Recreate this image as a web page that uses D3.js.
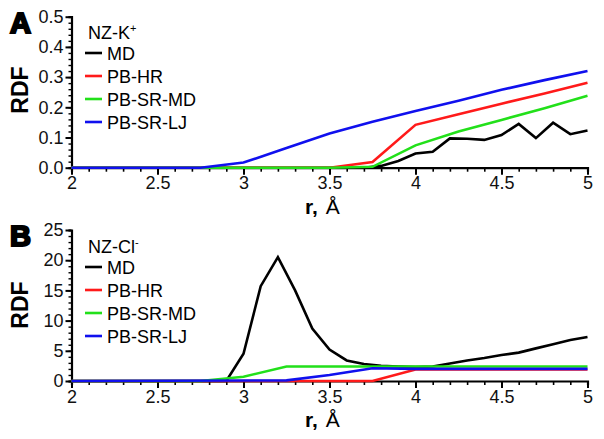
<!DOCTYPE html>
<html><head><meta charset="utf-8">
<script src="https://cdn.jsdelivr.net/npm/d3@7"></script>
<style>body{margin:0;background:#fff;} svg{display:block;font-family:"Liberation Sans",Arial,sans-serif;}</style>
</head><body>
<svg id="c" width="604" height="439"></svg>
<script>
// ---- data ----
const seriesNames = ["MD", "PB-HR", "PB-SR-MD", "PB-SR-LJ"];
const seriesColors = ["#000000", "#ff1a1a", "#22e01a", "#1010ee"];
const xTicks = [2, 2.5, 3, 3.5, 4, 4.5, 5];

// Panel A: NZ-K+
const kMD_r = [2.0, 3.7, 3.8, 3.9, 4.0, 4.1, 4.2, 4.3, 4.4, 4.5, 4.6, 4.7, 4.8, 4.9, 5.0];
const kMD_g = [0, 0, 0.006, 0.022, 0.047, 0.053, 0.097, 0.096, 0.092, 0.108, 0.145, 0.098, 0.149, 0.111, 0.123];
const kHR_r = [2.0, 3.5, 3.75, 4.0, 4.25, 4.5, 4.75, 5.0];
const kHR_g = [0, 0, 0.019, 0.142, 0.177, 0.212, 0.246, 0.281];
const kSRMD_r = [2.0, 3.5, 3.75, 4.0, 4.25, 4.5, 4.75, 5.0];
const kSRMD_g = [0, 0, 0.003, 0.074, 0.12, 0.158, 0.197, 0.238];
const kSRLJ_r = [2.0, 2.75, 3.0, 3.25, 3.5, 3.75, 4.0, 4.25, 4.5, 4.75, 5.0];
const kSRLJ_g = [0, 0, 0.017, 0.065, 0.113, 0.152, 0.188, 0.222, 0.258, 0.29, 0.32];
const kYTicks = [0, 0.1, 0.2, 0.3, 0.4, 0.5];

// Panel B: NZ-Cl-
const cMD_r = [2.0, 2.9, 3.0, 3.1, 3.2, 3.3, 3.4, 3.5, 3.6, 3.7, 3.8, 3.9, 4.0, 4.1, 4.2, 4.3, 4.4, 4.5, 4.6, 4.7, 4.8, 4.9, 5.0];
const cMD_g = [0, 0, 4.5, 15.7, 20.5, 15.0, 8.7, 5.2, 3.4, 2.8, 2.5, 2.4, 2.3, 2.4, 2.9, 3.4, 3.8, 4.3, 4.7, 5.4, 6.1, 6.8, 7.3];
const cHR_r = [2.0, 3.75, 4.0, 4.25, 4.5, 4.75, 5.0];
const cHR_g = [0, 0, 1.9, 1.9, 1.9, 1.9, 1.9];
const cSRMD_r = [2.0, 2.75, 3.0, 3.25, 3.5, 3.75, 4.0, 4.25, 4.5, 4.75, 5.0];
const cSRMD_g = [0, 0, 0.7, 2.4, 2.4, 2.4, 2.4, 2.4, 2.4, 2.4, 2.4];
const cSRLJ_r = [2.0, 3.25, 3.5, 3.75, 4.0, 4.25, 4.5, 4.75, 5.0];
const cSRLJ_g = [0, 0.1, 1.0, 2.1, 2.0, 2.0, 2.0, 2.0, 2.0];
const cYTicks = [0, 5, 10, 15, 20, 25];

const svg = d3.select("#c");
const x = d3.scaleLinear().domain([2, 5]).range([71.5, 587.5]);

function panel(opts) {
  const y = d3.scaleLinear().domain([0, opts.ymax]).range([opts.y0, opts.y1]);
  const g = svg.append("g");
  // x axis
  const xa = g.append("g").attr("transform", `translate(0,${opts.y0})`);
  xa.call(d3.axisBottom(x).tickValues(d3.range(20, 51).map(v => v / 10)).tickSize(4).tickFormat(""));
  xa.call(a => a.selectAll(".tick line").attr("stroke-width", 1.6));
  xa.append("g").call(d3.axisBottom(x).tickValues(xTicks).tickSize(7).tickPadding(2).tickFormat(d3.format("")))
    .call(a => { a.select(".domain").remove(); a.selectAll(".tick line").attr("stroke-width", 2);
      a.selectAll("text").attr("font-size", 18).attr("fill", "#111").attr("font-family", "Liberation Sans, Arial"); });
  xa.select(".domain").attr("stroke-width", 2.2);
  // y axis
  const ya = g.append("g").attr("transform", `translate(${x(2)},0)`);
  const step = opts.yTicks[1] - opts.yTicks[0];
  ya.call(d3.axisLeft(y).tickValues(d3.range(0, 26).map(i => i * step / 5)).tickSize(3).tickFormat(""));
  ya.call(a => a.selectAll(".tick line").attr("stroke-width", 1.4));
  ya.append("g").call(d3.axisLeft(y).tickValues(opts.yTicks).tickSize(6).tickPadding(2).tickFormat(opts.fmt))
    .call(a => { a.select(".domain").remove(); a.selectAll(".tick line").attr("stroke-width", 2);
      a.selectAll("text").attr("font-size", 18).attr("fill", "#111").attr("font-family", "Liberation Sans, Arial"); });
  ya.select(".domain").attr("stroke-width", 2.2);
  // lines
  const line = d3.line().x(d => x(d[0])).y(d => y(d[1]));
  opts.series.forEach((s, i) => {
    g.append("path").datum(d3.zip(s[0], s[1])).attr("d", line)
      .attr("fill", "none").attr("stroke", seriesColors[i]).attr("stroke-width", 2.6)
      .attr("stroke-linejoin", "miter");
  });
  // panel letter
  g.append("text").attr("x", 10).attr("y", opts.y1 + 16).text(opts.letter)
    .attr("font-size", 29).attr("font-weight", 900).attr("stroke", "#000").attr("stroke-width", 2.2)
    .attr("font-family", "Liberation Sans, Arial");
  // y label
  g.append("text").attr("transform", `translate(28,${opts.labelY}) rotate(-90)`).attr("text-anchor", "middle")
    .text("RDF").attr("font-size", 23).attr("font-weight", "bold");
  // x label
  const xl = g.append("text").attr("x", 305).attr("y", opts.y0 + 46).attr("font-size", 21);
  xl.append("tspan").attr("font-weight", "bold").text("r,");
  xl.append("tspan").attr("dx", 8).text("Å");
  // legend
  const lg = g.append("g").attr("transform", `translate(85,${opts.legY})`);
  const title = lg.append("text").attr("x", 3).attr("y", 0).attr("font-size", 18);
  title.append("tspan").text(opts.title);
  title.append("tspan").attr("font-size", 11).attr("dy", -7).text(opts.sup);
  seriesNames.forEach((n, i) => {
    const yy = 14 + i * 23;
    lg.append("line").attr("x1", 0).attr("x2", 17).attr("y1", yy).attr("y2", yy)
      .attr("stroke", seriesColors[i]).attr("stroke-width", 2.6);
    lg.append("text").attr("x", 22).attr("y", yy + 6.5).attr("font-size", 18).text(n);
  });
}

panel({ y0: 167.7, y1: 16.7, ymax: 0.5, yTicks: kYTicks, fmt: d3.format(".1f"), letter: "A", labelY: 90,
  legY: 39, title: "NZ-K", sup: "+",
  series: [[kMD_r, kMD_g], [kHR_r, kHR_g], [kSRMD_r, kSRMD_g], [kSRLJ_r, kSRLJ_g]] });
panel({ y0: 381, y1: 230, ymax: 25, yTicks: cYTicks, fmt: d3.format("d"), letter: "B", labelY: 305,
  legY: 253, title: "NZ-Cl", sup: "-",
  series: [[cMD_r, cMD_g], [cHR_r, cHR_g], [cSRMD_r, cSRMD_g], [cSRLJ_r, cSRLJ_g]] });
</script>
</body></html>
